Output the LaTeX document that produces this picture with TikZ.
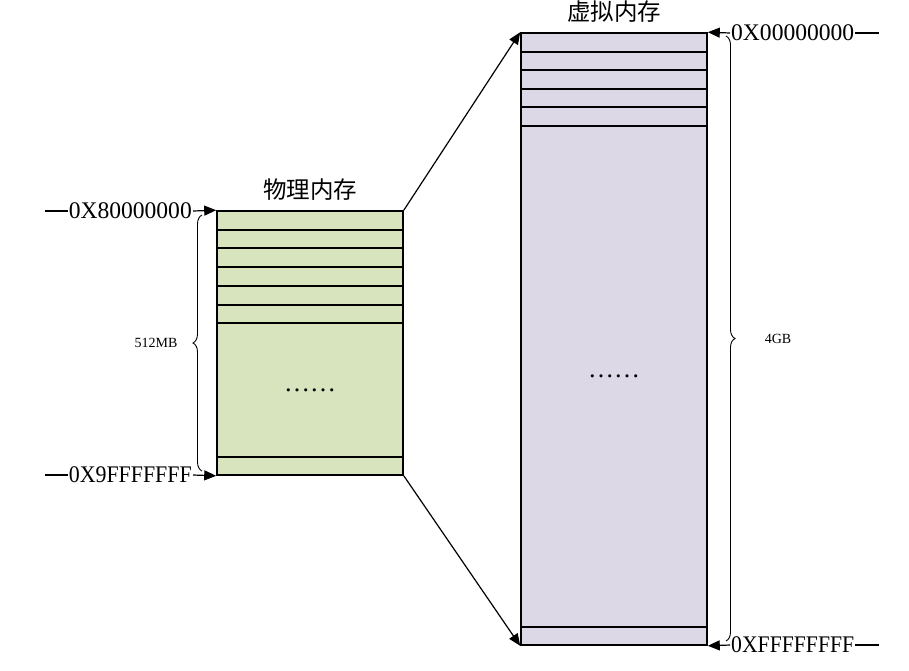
\documentclass[tikz,border=0pt]{standalone}
\usepackage{fontspec}
\usepackage{graphicx}
\setmainfont{Liberation Serif}
\newfontfamily\cjk{Noto Sans CJK SC}
\usetikzlibrary{arrows.meta,decorations.pathreplacing}
\definecolor{physgreen}{HTML}{D7E4BD}
\definecolor{virtpurple}{HTML}{DCD8E6}
\newcommand{\addrtext}[1]{\resizebox{123pt}{\height}{#1}}
\tikzset{
  membox/.style={draw=black, line width=1.6pt, inner sep=0pt, minimum width=186pt},
  physbox/.style={membox, fill=physgreen, minimum height=264pt},
  virtbox/.style={membox, fill=virtpurple, minimum height=612pt},
  rowline/.style={line width=1.6pt},
  addrlab/.style={font=\fontsize{23.8}{24}\selectfont, inner sep=1pt},
  sizelab/.style={font=\fontsize{14}{14}\selectfont, inner sep=1pt},
  titlelab/.style={font=\cjk\fontsize{23.5}{24}\selectfont, inner sep=0pt},
  dotslab/.style={font=\fontsize{26}{26}\selectfont, inner sep=0pt, anchor=base},
  ptr/.style={-{Triangle[length=12pt, width=10pt]}, line width=1.2pt},
  tick/.style={line width=1.2pt},
  spanbrace/.style={decorate, decoration={brace, amplitude=9pt}, line width=0.9pt},
}

\begin{document}
\begin{tikzpicture}[x=1pt, y=-1pt]
\useasboundingbox (0,0) rectangle (909,670);
% physical memory
\node[physbox] (phys) at (310,343) {};
\foreach \y in {230,248,267,286,305,323,457}
  \draw[rowline] (phys.west |- 0,\y) -- (phys.east |- 0,\y);
\node[dotslab] (pdots) at (310,391.5) {……};
\node[titlelab] (ptitle) at (310,190) {物理内存};
% virtual memory
\node[virtbox] (virt) at (614,339) {};
\foreach \y in {52,70,89,107,126,627}
  \draw[rowline] (virt.west |- 0,\y) -- (virt.east |- 0,\y);
\node[dotslab] (vdots) at (614,377.5) {……};
\node[titlelab] (vtitle) at (614,12) {虚拟内存};
% mapping
\draw[ptr] (phys.north east) -- (virt.north west);
\draw[ptr] (phys.south east) -- (virt.south west);
% addresses on the left
\node[addrlab, anchor=east] (a80) at (193,211) {\addrtext{0X80000000}};
\node[addrlab, anchor=east] (a9f) at (193,475) {\addrtext{0X9FFFFFFF}};
\coordinate (a80l) at (45,211);
\coordinate (a9fl) at (45,475);
\draw[tick] (a80l) -- (a80.west);
\draw[tick] (a9fl) -- (a9f.west);
\draw[ptr] (a80.east) -- (phys.north west);
\draw[ptr] (a9f.east) -- (phys.south west);
% addresses on the right
\node[addrlab, anchor=west] (a00) at (730,33) {\addrtext{0X00000000}};
\node[addrlab, anchor=west] (aff) at (730,645) {\addrtext{0XFFFFFFFF}};
\coordinate (a00r) at (879,33);
\coordinate (affr) at (879,645);
\draw[tick] (a00.east) -- (a00r);
\draw[tick] (aff.east) -- (affr);
\draw[ptr] (a00.west) -- (virt.north east);
\draw[ptr] (aff.west) -- (virt.south east);
% sizes
\draw[spanbrace] (202,471) -- (202,215);
\node[sizelab] (sz512) at (156,343) {512MB};
\draw[spanbrace] (726,36) -- (726,641);
\node[sizelab] (sz4g) at (778,339) {4GB};
\end{tikzpicture}
\end{document}
